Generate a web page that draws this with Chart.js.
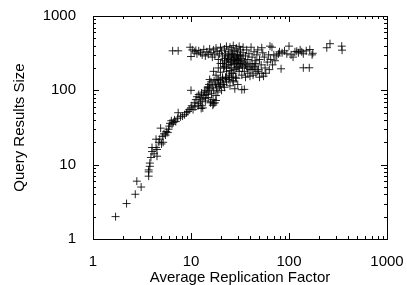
<!DOCTYPE html>
<html>
<head>
<meta charset="utf-8">
<script src="https://cdn.jsdelivr.net/npm/chart.js@4"></script>
<style>
  html, body { margin: 0; padding: 0; background: #fff; }
  canvas { display: block; }
</style>
</head>
<body>
<canvas id="chart" width="407" height="285"></canvas>
<script>
// ticks for both log axes
const xTicks = [1, 10, 100, 1000];
const yTicks = [1, 10, 100, 1000];

const xTitle = 'Average Replication Factor';
const yTitle = 'Query Results Size';

// lower tail
const tailX = [1.7, 2.2, 2.7, 2.8, 3.1, 3.7, 3.7, 3.7, 3.8, 3.8, 3.9, 4.0, 4.0, 4.2, 4.4, 4.5, 4.5, 4.4, 4.7, 4.8,
  4.9, 5.0, 5.1, 5.2, 5.3, 5.5, 5.6, 5.8, 5.9, 6.0, 6.1, 6.3, 6.4, 6.6, 6.8, 7.0, 7.3, 7.4, 7.8, 8.2,
  8.6, 9.0, 9.3, 9.6, 10, 10.2, 10.5, 10];
const tailY = [2, 3, 4, 6, 5, 7, 8, 8.5, 9.5, 10.5, 12.5, 15, 17, 14, 17, 13, 16, 22, 20, 22,
  31, 19, 24, 20, 26, 25, 28, 27, 30, 33, 36, 39, 35, 37, 40, 38, 42, 50, 44, 45,
  47, 50, 52, 55, 58, 62, 55, 100];

// middle band
const midX = [10.8, 11, 11.2, 11.5, 11.8, 12, 12.3, 12.5, 12.8, 13, 13.2, 13.5, 13.7, 14, 14.2, 14.5, 14.8, 15, 15, 15.3,
  15.5, 15.8, 16, 16.2, 16.5, 16.8, 17, 17.2, 17.5, 17.8, 18, 18.2, 18.5, 18.8, 19, 19.5, 20, 20.5, 21, 21.5,
  22, 22.5, 23, 24, 25, 26, 27, 28, 29, 30, 33, 35, 16, 17, 14, 12, 13, 19, 20, 15.5,
  12.7, 16.7, 18, 14.9, 21.2, 22.9, 24.8, 26.8];
const midY = [68, 60, 75, 82, 62, 88, 80, 70, 92, 76, 58, 85, 95, 72, 100, 88, 110, 80, 95, 120,
  105, 68, 130, 90, 115, 75, 100, 135, 68, 120, 85, 108, 140, 95, 125, 112, 135, 100, 145, 120,
  110, 150, 130, 140, 115, 150, 130, 105, 145, 120, 102, 103, 70, 66, 78, 66, 62, 140, 118, 140,
  57, 63, 73, 111, 129, 143, 150, 135];

// upper band
const topX = [6.5, 7.4, 9.8, 10, 10.3, 10.8, 11.2, 11.5, 12, 12.5, 13, 13.5, 14, 14.5, 15, 15.5, 16, 16.5, 17, 17.5,
  18, 18.5, 19, 19.5, 20, 20, 20.5, 21, 21.5, 22, 22, 22.5, 23, 23, 23.5, 24, 24, 24.5, 25, 25,
  25.5, 26, 26, 26.5, 27, 27, 27, 27.5, 28, 28, 28, 28.5, 29, 29, 29.5, 30, 30, 30.5, 31, 31,
  31.5, 32, 32, 33, 33, 33.5, 34, 34, 35, 35, 36, 36, 37, 37, 38, 38, 39, 40, 40, 41,
  42, 42, 43, 44, 45, 45, 46, 47, 48, 49, 50, 50, 52, 53, 54, 55, 56, 57, 58, 60,
  62, 63, 65, 67, 68, 70, 72, 75, 78, 83,
  21, 22, 23, 24, 25, 26, 27, 28, 29, 30, 31, 32, 24, 26, 28, 30, 22, 23, 25, 26,
  29, 31, 33, 34, 36, 38, 40, 42, 44, 46, 48, 19, 20, 18, 21, 17, 52.7, 64];
const topY = [340, 340, 380, 285, 350, 330, 345, 310, 340, 320, 300, 355, 290, 330, 305, 360, 320, 280, 350, 300,
  370, 330, 260, 310, 380, 230, 340, 290, 200, 360, 250, 310, 390, 180, 270, 330, 220, 160, 380, 290,
  240, 350, 200, 310, 400, 260, 170, 225, 340, 280, 190, 150, 370, 240, 300, 210, 330, 260, 390, 180,
  290, 230, 350, 270, 160, 200, 320, 380, 240, 180, 290, 150, 350, 210, 260, 170, 310, 230, 155, 380,
  280, 190, 160, 330, 250, 210, 170, 300, 350, 190, 150, 260, 220, 170, 320, 155, 280, 200, 170, 240,
  300, 190, 260, 380, 220, 300, 250, 290, 310, 195,
  230, 270, 240, 260, 220, 250, 300, 230, 270, 250, 230, 300, 300, 280, 250, 290, 210, 200, 185, 170,
  200, 200, 220, 250, 220, 200, 190, 220, 200, 230, 180, 200, 175, 160, 150, 180, 374, 393];

// right tail
const rightX = [80, 85, 90, 95, 100, 105, 110, 115, 120, 125, 130, 135, 140, 140, 150, 161, 163, 172, 175, 243,
  262, 345, 348];
const rightY = [330, 320, 340, 310, 393, 300, 280, 330, 335, 320, 350, 330, 310, 201, 340, 201, 354, 300, 315, 374,
  424, 393, 347];

const allX = [...tailX, ...midX, ...topX, ...rightX];
const allY = [...tailY, ...midY, ...topY, ...rightY];
const points = allX.map((x, i) => ({ x: x, y: allY[i] }));

const FONT = 'Liberation Sans, Arial, Helvetica, sans-serif';

// gnuplot style frame with inward ticks on all four sides
const framePlugin = {
  id: 'frame',
  afterDraw(chart) {
    const ctx = chart.ctx;
    const a = chart.chartArea;
    const sx = chart.scales.x;
    const sy = chart.scales.y;
    ctx.save();
    ctx.strokeStyle = '#000';
    ctx.lineWidth = 1;
    ctx.strokeRect(Math.round(a.left) + 0.5, Math.round(a.top) + 0.5,
      Math.round(a.right - a.left), Math.round(a.bottom - a.top));

    ctx.beginPath();
    [1, 10, 100].forEach(d => {
      for (let m = 1; m <= 10; m++) {
        const len = (m === 1 || m === 10) ? 6 : 3;
        const px = Math.round(sx.getPixelForValue(d * m)) + 0.5;
        ctx.moveTo(px, a.bottom); ctx.lineTo(px, a.bottom - len);
        ctx.moveTo(px, a.top); ctx.lineTo(px, a.top + len);
        const py = Math.round(sy.getPixelForValue(d * m)) + 0.5;
        ctx.moveTo(a.left, py); ctx.lineTo(a.left + len, py);
        ctx.moveTo(a.right, py); ctx.lineTo(a.right - len, py);
      }
    });
    ctx.stroke();

    ctx.fillStyle = '#000';
    ctx.font = '15px ' + FONT;
    ctx.textAlign = 'center';
    ctx.textBaseline = 'alphabetic';
    ctx.fillText(xTitle, (a.left + a.right) / 2, 282);
    ctx.translate(24, (a.top + a.bottom) / 2);
    ctx.rotate(-Math.PI / 2);
    ctx.fillText(yTitle, 0, 0);
    ctx.restore();
  }
};

new Chart(document.getElementById('chart'), {
  type: 'scatter',
  data: {
    datasets: [{
      data: points,
      pointStyle: 'cross',
      radius: 4,
      borderWidth: 1,
      borderColor: 'rgba(0,0,0,0.85)',
      backgroundColor: 'rgba(0,0,0,0.85)'
    }]
  },
  options: {
    responsive: false,
    animation: false,
    devicePixelRatio: 1,
    layout: { padding: { left: 0, top: 16, right: 20, bottom: 0 } },
    plugins: { legend: { display: false }, tooltip: { enabled: false } },
    scales: {
      x: {
        type: 'logarithmic',
        min: 1,
        max: 1000,
        afterBuildTicks: s => { s.ticks = xTicks.map(v => ({ value: v })); },
        afterFit: s => { s.height = 46; s.paddingLeft = 0; s.paddingRight = 0; },
        grid: { display: false },
        border: { display: false },
        ticks: {
          autoSkip: false, maxRotation: 0, padding: 6,
          color: '#000', font: { family: FONT, size: 15 },
          callback: v => String(v)
        }
      },
      y: {
        type: 'logarithmic',
        min: 1,
        max: 1000,
        afterBuildTicks: s => { s.ticks = yTicks.map(v => ({ value: v })); },
        afterFit: s => { s.width = 93; s.paddingTop = 0; s.paddingBottom = 0; },
        grid: { display: false },
        border: { display: false },
        ticks: {
          autoSkip: false, padding: 9,
          color: '#000', font: { family: FONT, size: 15 },
          callback: v => String(v)
        }
      }
    }
  },
  plugins: [framePlugin]
});
</script>
</body>
</html>
